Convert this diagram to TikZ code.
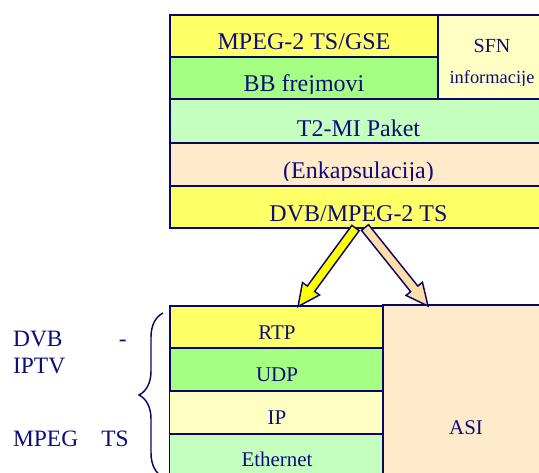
\documentclass[tikz,border=0pt]{standalone}
\usepackage{fontspec}
\setmainfont{Liberation Serif}
\usetikzlibrary{calc,fit,decorations.pathreplacing}
\definecolor{navytxt}{RGB}{12,12,122}
\definecolor{bord}{RGB}{8,8,100}
\definecolor{cyel}{HTML}{FFFF66}
\definecolor{cgrn}{HTML}{A4FF82}
\definecolor{cpale}{HTML}{FFFFC4}
\definecolor{clgrn}{HTML}{C4FFC0}
\definecolor{cpeach}{HTML}{FFEBCC}
\definecolor{carrY}{HTML}{FFFF00}
\definecolor{carrT}{HTML}{FFDDAA}
\newcommand{\blkarrow}[3]{%
  \coordinate (#1h) at ($(#2)!16.5pt!(#1)$);
  \draw[arr, fill=#3]
    ($(#1)!3.4pt!90:(#2)$) -- ($(#1h)!3.4pt!90:(#2)$) -- ($(#1h)!7.9pt!90:(#2)$)
    -- (#2) -- ($(#1h)!7.9pt!-90:(#2)$) -- ($(#1h)!3.4pt!-90:(#2)$)
    -- ($(#1)!3.4pt!-90:(#2)$) -- cycle;}
\begin{document}
\begin{tikzpicture}[x=0.75pt,y=-0.75pt,
  lay/.style={draw=bord, line width=1.4pt, inner sep=0pt, outer sep=0pt},
  ttop/.style={text=navytxt, anchor=base, inner sep=0pt, font=\fontsize{18}{20}\selectfont},
  tbot/.style={text=navytxt, anchor=base, inner sep=0pt, font=\fontsize{15.7}{18}\selectfont},
  tlab/.style={text=navytxt, inner sep=0pt, font=\fontsize{17.6}{20}\selectfont},
  arr/.style={draw=bord, line width=1.1pt, line join=miter}]
\useasboundingbox (0,0) rectangle (539,472);
\clip (0,0) rectangle (539,472);

% top stack
\node[lay, fill=cyel, fit={(170,15) (438,57)}] (b1) {};
\node[ttop] (t1) at (304,49.5) {MPEG-2 TS/GSE};
\node[lay, fill=cpale, fit={(438,15) (548,99)}] (sfn) {};
\node[ttop, font=\fontsize{15}{17}\selectfont] (tsfn) at (492,52.7) {SFN};
\begin{scope}
  \clip (438,60) rectangle (548,85);
  \node[ttop, font=\fontsize{13.8}{16}\selectfont] (tinf) at (492,83.5) {informacije};
\end{scope}
\node[lay, fill=cgrn, fit={(170,57) (438,99)}] (b2) {};
\begin{scope}
  \clip (170,57) rectangle (438,93.5);
  \node[ttop] (t2) at (304,91.7) {BB frejmovi};
\end{scope}
\node[lay, fill=clgrn, fit={(170,99) (548,143)}] (t2mi) {};
\node[ttop] (t3) at (358.5,136.7) {T2-MI Paket};
\node[lay, fill=cpeach, fit={(170,143) (548,186)}] (enk) {};
\begin{scope}
  \clip (170,143) rectangle (548,180);
  \node[ttop] (t4) at (358.5,178.3) {(Enkapsulacija)};
\end{scope}
\node[lay, fill=cyel, fit={(170,186) (548,228)}] (dvb) {};
\node[ttop] (t5) at (358.5,221.8) {DVB/MPEG-2 TS};

% bottom stack
\node[lay, fill=cyel, fit={(170,306) (383,348)}] (rtp) {};
\node[tbot] (trtp) at (277,339) {RTP};
\node[lay, fill=cgrn, fit={(170,348) (383,391)}] (udp) {};
\node[tbot] (tudp) at (277,381.7) {UDP};
\node[lay, fill=cpale, fit={(169.5,391) (383,434)}] (ip) {};
\node[tbot] (tip) at (277,424.3) {IP};
\node[lay, fill=clgrn, fit={(169.5,434) (383,490)}] (eth) {};
\node[tbot] (teth) at (277,466.7) {Ethernet};
\node[lay, fill=cpeach, fit={(383,305) (549,560)}] (asi) {};
\node[tbot] (tasi) at (466,434.3) {ASI};

% arrows
\coordinate (ts) at (365,227.5);
\coordinate (te) at ($(asi.north west)+(45,1)$);
\coordinate (ys) at (355.5,228);
\coordinate (ye) at ($(rtp.north west)+(128,0.5)$);
\blkarrow{ts}{te}{carrT}
\blkarrow{ys}{ye}{carrY}

% brace and labels
\coordinate (brb) at (163,477);
\coordinate (brt) at (163,313);
\draw[bord, line width=1.1pt, decorate, decoration={brace, amplitude=18pt}] (brb) -- (brt);
\node[tlab, anchor=base west] (l1) at (12.8,346.7) {DVB};
\node[tlab, anchor=base east] (l2) at (127,346.7) {-};
\node[tlab, anchor=base west] (l3) at (12.8,373.3) {IPTV};
\node[tlab, anchor=base west] (l4) at (12.8,446.7) {MPEG};
\node[tlab, anchor=base east] (l5) at (129,446.7) {TS};
\end{tikzpicture}
\end{document}
